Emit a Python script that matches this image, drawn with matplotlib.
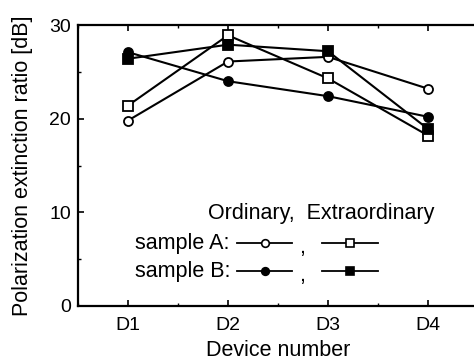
import matplotlib
matplotlib.use("Agg")
import matplotlib.pyplot as plt
from matplotlib.ticker import MultipleLocator

plt.rcParams['font.family'] = ['Liberation Sans', 'DejaVu Sans']

devices = ["D1", "D2", "D3", "D4"]
ord_a = [19.8, 26.1, 26.6, 23.2]
ext_a = [21.4, 28.9, 24.3, 18.2]
ord_b = [27.1, 24.0, 22.4, 20.2]
ext_b = [26.4, 27.9, 27.2, 18.9]

W, H = 474, 364
fig = plt.figure(figsize=(W / 100, H / 100), dpi=100)
ax = fig.add_axes([78 / W, 1 - 306 / H, 400 / W, 281 / H])

xs = list(range(1, len(devices) + 1))
lw, ms, mew = 1.5, 6.5, 1.3
ax.plot(xs, ord_a, '-o', color='k', mfc='white', lw=lw, ms=ms, mew=mew)
ax.plot(xs, ext_a, '-s', color='k', mfc='white', lw=lw, ms=ms, mew=mew)
ax.plot(xs, ord_b, '-o', color='k', mfc='k', lw=lw, ms=ms, mew=mew)
ax.plot(xs, ext_b, '-s', color='k', mfc='k', lw=lw, ms=ms, mew=mew)

ax.set_xlim(0.5, 0.5 + 400 / 100)
ax.set_ylim(0, 30)
ax.set_xticks(xs)
ax.set_xticklabels(devices)
ax.xaxis.set_minor_locator(MultipleLocator(0.5))
ax.yaxis.set_major_locator(MultipleLocator(10))
ax.yaxis.set_minor_locator(MultipleLocator(5))
ax.tick_params(which='both', direction='in', top=True, labelsize=14)
ax.tick_params(which='major', length=4, width=1.2)
ax.tick_params(which='minor', length=2.5, width=1)
ax.tick_params(axis='x', pad=8)
ax.tick_params(axis='y', pad=5)
ax.spines['right'].set_visible(False)
for s in ['left', 'bottom', 'top']:
    ax.spines[s].set_linewidth(1.6)

ax.set_xlabel("Device number", fontsize=15.5, labelpad=4)
ax.set_ylabel("Polarization extinction ratio [dB]", fontsize=15.5, labelpad=12)

# hand-drawn key
def fx(px):
    return px / W

def fy(py):
    return 1 - py / H

fs = 15.5
fig.text(fx(208), fy(213), "Ordinary,  Extraordinary", fontsize=fs, va='center')
rows = [("sample A:", 243, 'white'), ("sample B:", 271, 'k')]
for label, py, fc in rows:
    fig.text(fx(135), fy(py), label, fontsize=fs, va='center')
    fig.text(fx(299), fy(py + 4), ",", fontsize=fs, va='center')
    for x0, x1, mk in [(237, 292, 'o'), (322, 378, 's')]:
        fig.add_artist(plt.Line2D([fx(x0), fx(x1)], [fy(py), fy(py)], color='k', lw=1.3,
                                  transform=fig.transFigure))
        fig.add_artist(plt.Line2D([fx((x0 + x1) / 2)], [fy(py)], marker=mk, color='k',
                                  mfc=fc, ms=5.5, mew=1.2, transform=fig.transFigure))

fig.savefig("out.png", dpi=100)
